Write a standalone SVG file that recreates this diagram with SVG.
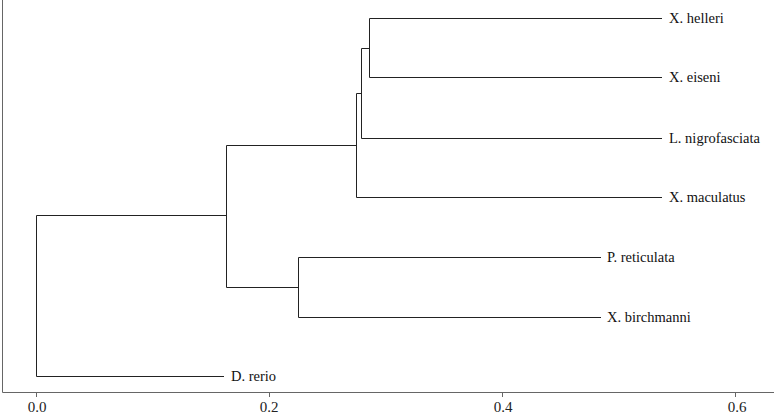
<svg xmlns="http://www.w3.org/2000/svg" width="774" height="416" viewBox="0 0 774 416">
<style>
.br{fill:none;stroke:#222;stroke-width:1}
.ax{fill:none;stroke:#666;stroke-width:1}
text{font-family:'Liberation Serif','DejaVu Serif',serif}
.lbl{font-size:14.5px;fill:#111}
.tk{font-size:15px;fill:#222;text-anchor:middle}
</style>
<rect width="774" height="416" fill="#fff"/>
<g id="axes" font-family="Liberation Serif, serif">
<path class="ax" d="M2.5 0V392.5H774"/>
<path class="ax" d="M36.5 392V397M269.5 392V397M502.5 392V397M735.5 392V397"/>
<text class="tk" x="37" y="412">0.0</text>
<text class="tk" x="269" y="412">0.2</text>
<text class="tk" x="503" y="412">0.4</text>
<text class="tk" x="737" y="412">0.6</text>
</g>
<g id="connectors">
<path class="br" d="M36.5 215.5V376.5"/>
<path class="br" d="M36.5 215.5H226.5"/>
<path class="br" d="M226.5 145.5V287.5"/>
<path class="br" d="M226.5 145.5H356.5"/>
<path class="br" d="M356.5 93.5V197.5"/>
<path class="br" d="M356.5 93.5H361.5"/>
<path class="br" d="M361.5 48.5V138.5"/>
<path class="br" d="M361.5 48.5H369.5"/>
<path class="br" d="M369.5 18.5V77.5"/>
<path class="br" d="M369.5 18.5H662"/>
<path class="br" d="M369.5 77.5H662"/>
<path class="br" d="M361.5 138.5H662"/>
<path class="br" d="M356.5 197.5H662"/>
<path class="br" d="M226.5 287.5H298.5"/>
<path class="br" d="M298.5 257.5V317.5"/>
<path class="br" d="M298.5 257.5H601"/>
<path class="br" d="M298.5 317.5H601"/>
<path class="br" d="M36.5 376.5H224"/>
</g>
<g id="n-helleri"><text class="lbl" x="669" y="23">X. helleri</text></g>
<g id="n-eiseni"><text class="lbl" x="669" y="82">X. eiseni</text></g>
<g id="n-nigrofasciata"><text class="lbl" x="669" y="143">L. nigrofasciata</text></g>
<g id="n-maculatus"><text class="lbl" x="669" y="202">X. maculatus</text></g>
<g id="n-reticulata"><text class="lbl" x="607" y="262">P. reticulata</text></g>
<g id="n-birchmanni"><text class="lbl" x="607" y="322">X. birchmanni</text></g>
<g id="n-rerio"><text class="lbl" x="231" y="381">D. rerio</text></g>
</svg>
